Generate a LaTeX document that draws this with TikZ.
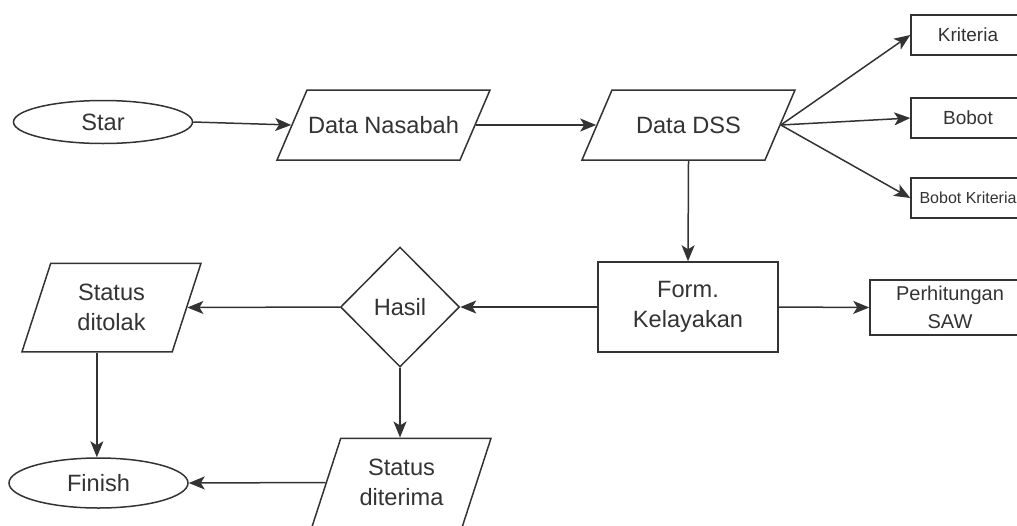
\documentclass[tikz,border=0pt]{standalone}
\usepackage{fontspec}
\setmainfont{Liberation Sans}
\usetikzlibrary{arrows.meta,positioning,shapes.geometric}
\definecolor{ink}{HTML}{333333}

\begin{document}
\begin{tikzpicture}[x=0.5pt, y=-0.5pt, >={Stealth[length=8pt,width=6.5pt,inset=2pt]},
  every node/.style={font=\fontsize{11.8}{15}\selectfont, text=ink},
  line/.style={draw=ink, line width=0.75pt, ->},
  term/.style={draw=ink, line width=0.75pt, ellipse, minimum width=89.5pt, inner sep=0pt},
  io/.style={draw=ink, line width=0.75pt, trapezium, trapezium stretches body, align=center,
    trapezium left angle=66.8, trapezium right angle=113.2, inner xsep=0pt, inner ysep=13.2pt,
    text height=8.6pt, text depth=0pt, minimum width=106.5pt},
  status/.style={draw=ink, line width=0.75pt, trapezium, trapezium stretches body, align=center,
    trapezium left angle=72, trapezium right angle=108, inner xsep=0pt, inner ysep=10.45pt,
    minimum width=89.5pt},
  proc/.style={draw=ink, line width=0.75pt, rectangle, align=center, inner sep=0pt,
    minimum width=90pt, minimum height=45pt},
  item/.style={draw=ink, line width=0.75pt, rectangle, inner sep=0pt,
    minimum width=57pt, minimum height=20pt, font=\fontsize{9.5}{11}\selectfont},
  decision/.style={draw=ink, line width=0.75pt, diamond, aspect=1, inner sep=0pt,
    minimum width=59.5pt, minimum height=60pt}]
  \useasboundingbox (0,0) rectangle (1017,525);
  \clip (0,0) rectangle (1017,525);
  % top row
  \node[term, minimum height=21.5pt] (star) at (103,122) {Star};
  \node[io] (nas) at (383.5,125) {Data Nasabah};
  \node[io] (dss) at (688.5,125) {Data DSS};
  \node[item] (kri) at (968,35) {Kriteria};
  \node[item] (bob) at (968,118) {Bobot};
  \node[item, font=\fontsize{8}{10}\selectfont] (bk) at (968,198) {Bobot Kriteria};
  % middle row
  \node[proc] (form) at (688,307) {Form.\\Kelayakan};
  \node[proc, minimum width=80pt, minimum height=27.5pt, font=\fontsize{10}{14}\selectfont]
    (saw) at (950,307.5) {Perhitungan\\SAW};
  \node[decision] (hasil) at (400,307) {Hasil};
  \node[status] (tolak) at (111.5,307.5) {Status\\ditolak};
  % bottom row
  \node[status] (terima) at (401.5,482.5) {Status\\diterima};
  \node[term, minimum height=25pt] (finish) at (98.5,483) {Finish};
  % connectors
  \draw[line] (star.east) -- (nas.west);
  \draw[line] (nas.east) -- (dss.west);
  \draw[line] (dss.east) -- (kri.west);
  \draw[line] (dss.east) -- (bob.west);
  \draw[line] (dss.east) -- (bk.west);
  \draw[line] (dss.south) -- (form.north);
  \draw[line] (form.east) -- (saw.west);
  \draw[line] (form.west) -- (hasil.east);
  \draw[line] (hasil.west) -- (tolak.east);
  \draw[line] (hasil.south) -- (hasil.south |- terima.north);
  \draw[line] (tolak.bottom side) -- (tolak.bottom side |- finish.north);
  \draw[line] (terima.west) -- (finish.east);
\end{tikzpicture}
\end{document}
